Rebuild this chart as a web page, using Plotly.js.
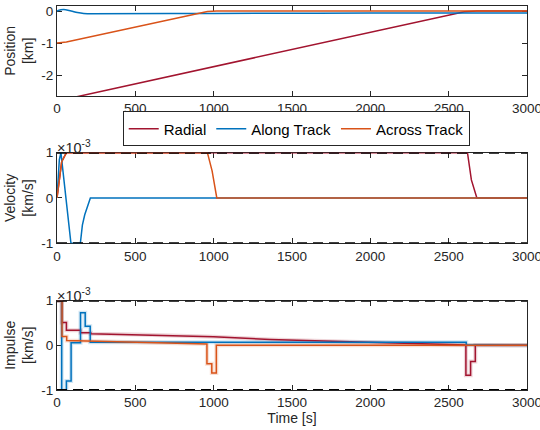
<!DOCTYPE html>
<html>
<head>
<meta charset="utf-8">
<script src="https://cdn.plot.ly/plotly-3.0.1.min.js"></script>
<style>html,body{margin:0;padding:0;background:#fff;}#chart{width:540px;height:430px;}</style>
</head>
<body>
<div id="chart"></div>
<script>
// ---- data ----
var seriesNames = ["Radial", "Along Track", "Across Track"];
// Position [km]
var posRadialT = [0, 60, 2600, 2640, 2680, 3000];
var posRadialV = [-2.79, -2.75, -0.02, -0.004, 0, 0];
var posAlongT = [0, 20, 42, 90, 130, 170, 213, 1000, 2000, 3000];
var posAlongV = [0, 0.03, 0.05, 0.0, -0.05, -0.08, -0.084, -0.075, -0.065, -0.06];
var posAcrossT = [0, 30, 60, 960, 990, 1020, 3000];
var posAcrossV = [-1, -0.99, -0.97, -0.015, -0.004, 0, 0];
// Velocity [1e-3 km/s]
var velRadialT = [0, 30, 60, 2620, 2645, 2680, 3000];
var velRadialV = [0, 0.8, 1, 1, 0.4, 0, 0];
var velAlongT = [0, 15, 25, 89, 149, 162, 177, 213, 3000];
var velAlongV = [0, 0.85, 1, -1, -1, -0.6, -0.37, 0, 0];
var velAcrossT = [0, 30, 60, 960, 990, 1020, 3000];
var velAcrossV = [0, 0.8, 1, 1, 0.6, 0, 0];
// Impulse [1e-3 km/s] (steps written as explicit corners)
var impRadialT = [0, 30, 30, 60, 60, 150, 150, 215, 215, 500, 1000, 1360, 2000, 2500, 2610, 2610, 2640, 2640, 2670, 2670, 3000];
var impRadialV = [1, 1, 0.51, 0.51, 0.34, 0.34, 0.28, 0.28, 0.26, 0.24, 0.19, 0.13, 0.06, 0.02, 0.01, -0.67, -0.67, -0.36, -0.36, 0, 0];
var impAlongT = [0, 30, 30, 60, 60, 90, 90, 150, 150, 180, 180, 212, 212, 2612, 2612, 2642, 2642, 3000];
var impAlongV = [1, 1, -1, -1, -0.8, -0.8, 0.06, 0.06, 0.73, 0.73, 0.43, 0.43, 0.07, 0.07, 0.015, 0.015, 0, 0];
var impAcrossT = [0, 32, 32, 62, 62, 500, 957, 957, 988, 988, 1017, 1017, 3000];
var impAcrossV = [1, 1, 0.2, 0.2, 0.11, 0.07, 0.03, -0.41, -0.41, -0.62, -0.62, 0, 0];
var xTicks = [0, 500, 1000, 1500, 2000, 2500, 3000];
var posTicks = [-2, -1, 0];
var unitTicks = [-1, 0, 1];

// ---- style ----
var cRed = "#A2142F", cBlue = "#0072BD", cOrange = "#D95319";
var axCol = "#262626";
var FONT = "Liberation Sans, Arial, sans-serif";

function tr(x, y, col, xa, ya, name, show, extra) {
  var t = {x: x, y: y, type: "scatter", mode: "lines", name: name, showlegend: show,
    xaxis: xa, yaxis: ya, line: {color: col, width: 1.5}, hoverinfo: "skip"};
  if (extra) for (var k in extra) t[k] = extra[k];
  return t;
}
function halo(x, y, col, xa, ya) {
  return {x: x, y: y, type: "scatter", mode: "lines", showlegend: false, xaxis: xa, yaxis: ya,
    line: {color: col, width: 4}, opacity: 0.18, hoverinfo: "skip"};
}

var data = [
  tr(posRadialT, posRadialV, cRed, "x", "y", seriesNames[0], true),
  tr(posAlongT, posAlongV, cBlue, "x", "y", seriesNames[1], true, {line: {color: cBlue, width: 1.5, shape: "spline"}}),
  tr(posAcrossT, posAcrossV, cOrange, "x", "y", seriesNames[2], true),
  tr(velRadialT, velRadialV, cRed, "x2", "y2", seriesNames[0], false),
  tr(velAlongT, velAlongV, cBlue, "x2", "y2", seriesNames[1], false),
  tr(velAcrossT, velAcrossV, cOrange, "x2", "y2", seriesNames[2], false),
  halo(impRadialT, impRadialV, cRed, "x3", "y3"),
  halo(impAlongT, impAlongV, cBlue, "x3", "y3"),
  halo(impAcrossT, impAcrossV, cOrange, "x3", "y3"),
  tr(impRadialT, impRadialV, cRed, "x3", "y3", seriesNames[0], false),
  tr(impAlongT, impAlongV, cBlue, "x3", "y3", seriesNames[1], false),
  tr(impAcrossT, impAcrossV, cOrange, "x3", "y3", seriesNames[2], false)
];

function xax(anchor) {
  return {anchor: anchor, domain: [0, 1], range: [0, 3000], tickvals: xTicks, ticktext: xTicks.map(String),
    ticks: "inside", ticklen: 5, tickwidth: 1, tickcolor: axCol, showline: true, linecolor: axCol, linewidth: 1,
    mirror: "ticks", showgrid: false, zeroline: false, layer: "below traces", ticklabeloverflow: "allow",
    tickfont: {family: FONT, size: 13.5, color: axCol}};
}
function yax(anchor, dom, rng, tv, title) {
  return {anchor: anchor, domain: dom, range: rng, tickvals: tv, ticktext: tv.map(String),
    ticks: "inside", ticklen: 5, tickwidth: 1, tickcolor: axCol, showline: true, linecolor: axCol, linewidth: 1,
    mirror: "ticks", showgrid: false, zeroline: false, layer: "below traces", ticklabeloverflow: "allow",
    tickfont: {family: FONT, size: 13.5, color: axCol},
    title: {text: title, font: {family: FONT, size: 14, color: axCol}, standoff: 4}};
}

var xa3 = xax("y3");
xa3.title = {text: "Time [s]", font: {family: FONT, size: 14, color: axCol}, standoff: 2};

function dline(ya, yv) {
  return {type: "line", xref: "x" + ya.slice(1), yref: ya, x0: 0, x1: 3000, y0: yv, y1: yv,
    line: {color: "#000", width: 2, dash: "10px,6px"}, layer: "above"};
}

var layout = {
  width: 540, height: 430,
  margin: {l: 57, r: 13, t: 5, b: 40},
  paper_bgcolor: "#fff", plot_bgcolor: "#fff",
  font: {family: FONT, color: axCol},
  showlegend: true,
  legend: {orientation: "h", x: 0.509, xanchor: "center", y: 0.678, yanchor: "middle",
    bordercolor: axCol, borderwidth: 1, bgcolor: "#fff",
    font: {family: FONT, size: 15, color: "#000"}, itemwidth: 30, tracegroupgap: 0},
  xaxis: xax("y"),
  yaxis: yax("x", [0.7636, 0.9982], [-2.656, 0.166], posTicks, "Position<br>[km]"),
  xaxis2: xax("y2"),
  yaxis2: yax("x2", [0.381, 0.6164], [-1, 1], unitTicks, "Velocity<br>[km/s]"),
  xaxis3: xa3,
  yaxis3: yax("x3", [0, 0.232], [-1, 1], unitTicks, "Impulse<br>[km/s]"),
  shapes: [dline("y2", 1), dline("y2", -1), dline("y3", 1), dline("y3", -1)],
  annotations: [
    {xref: "paper", yref: "paper", x: 0, y: 0.6164, xanchor: "left", yanchor: "bottom", showarrow: false,
      text: "×10<sup>-3</sup>", font: {family: FONT, size: 14.5, color: axCol}, xshift: -2, yshift: -5},
    {xref: "paper", yref: "paper", x: 0, y: 0.232, xanchor: "left", yanchor: "bottom", showarrow: false,
      text: "×10<sup>-3</sup>", font: {family: FONT, size: 14.5, color: axCol}, xshift: -2, yshift: -5}
  ]
};

Plotly.newPlot("chart", data, layout, {displayModeBar: false, staticPlot: true});
</script>
</body>
</html>
